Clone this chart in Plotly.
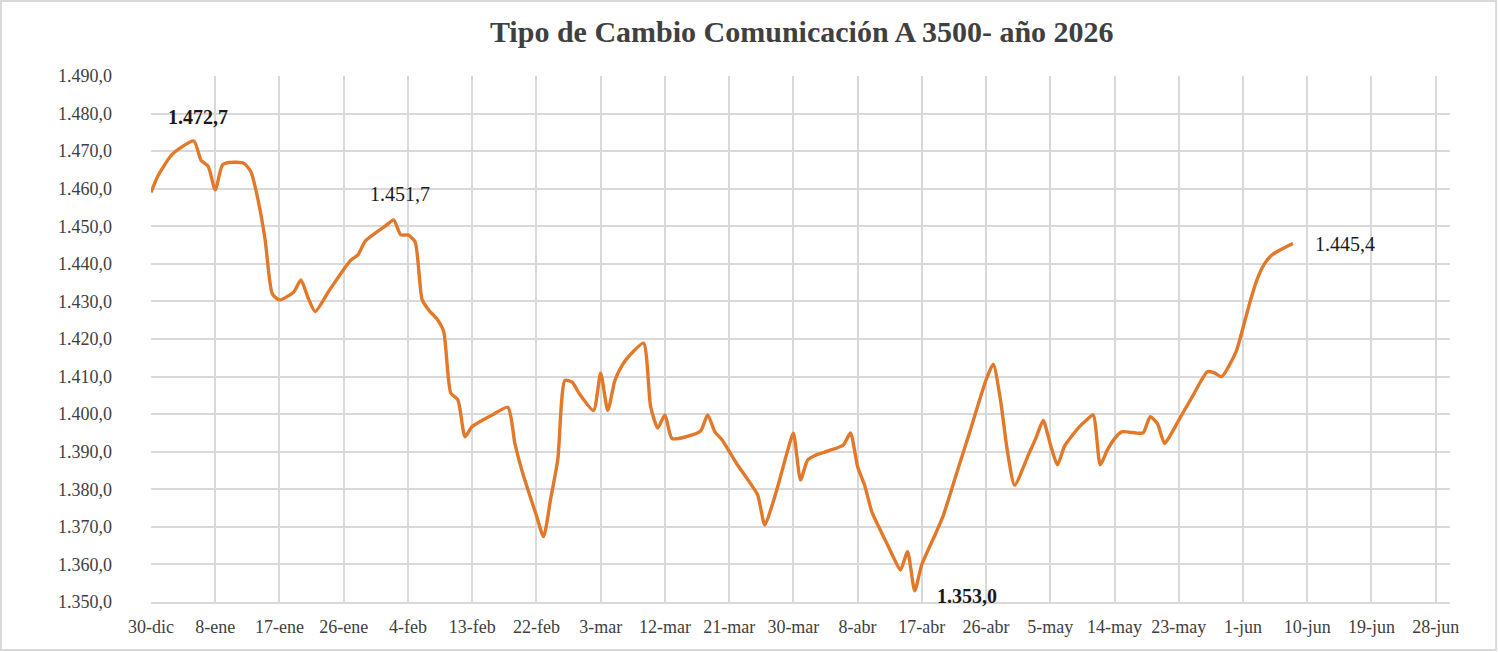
import pandas as pd
import plotly.graph_objects as go

# Tipo de cambio A 3500
fechas = [
    '2025-12-30', '2025-12-31', '2026-01-02', '2026-01-05', '2026-01-06', '2026-01-07',
    '2026-01-08', '2026-01-09', '2026-01-10', '2026-01-12', '2026-01-13', '2026-01-14',
    '2026-01-15', '2026-01-16', '2026-01-17', '2026-01-19', '2026-01-20', '2026-01-21',
    '2026-01-22', '2026-01-24', '2026-01-26', '2026-01-27', '2026-01-28', '2026-01-29',
    '2026-02-01', '2026-02-02', '2026-02-03', '2026-02-04', '2026-02-05', '2026-02-06',
    '2026-02-07', '2026-02-08', '2026-02-09', '2026-02-10', '2026-02-11', '2026-02-12',
    '2026-02-13', '2026-02-16', '2026-02-18', '2026-02-19', '2026-02-20', '2026-02-22',
    '2026-02-23', '2026-02-24', '2026-02-25', '2026-02-26', '2026-02-27', '2026-02-28',
    '2026-03-02', '2026-03-03', '2026-03-04', '2026-03-05', '2026-03-06', '2026-03-07',
    '2026-03-09', '2026-03-10', '2026-03-11', '2026-03-12', '2026-03-13', '2026-03-15',
    '2026-03-17', '2026-03-18', '2026-03-19', '2026-03-20', '2026-03-22', '2026-03-24',
    '2026-03-25', '2026-03-26', '2026-03-27', '2026-03-28', '2026-03-29', '2026-03-30',
    '2026-03-31', '2026-04-01', '2026-04-02', '2026-04-04', '2026-04-06', '2026-04-07',
    '2026-04-08', '2026-04-09', '2026-04-10', '2026-04-12', '2026-04-13', '2026-04-14',
    '2026-04-15', '2026-04-16', '2026-04-17', '2026-04-19', '2026-04-20', '2026-04-22',
    '2026-04-24', '2026-04-26', '2026-04-27', '2026-04-28', '2026-04-29', '2026-04-30',
    '2026-05-02', '2026-05-03', '2026-05-04', '2026-05-05', '2026-05-06', '2026-05-07',
    '2026-05-09', '2026-05-10', '2026-05-11', '2026-05-12', '2026-05-13', '2026-05-14',
    '2026-05-15', '2026-05-17', '2026-05-18', '2026-05-19', '2026-05-20', '2026-05-21',
    '2026-05-22', '2026-05-23', '2026-05-25', '2026-05-27', '2026-05-28', '2026-05-29',
    '2026-05-31', '2026-06-01', '2026-06-02', '2026-06-03', '2026-06-04', '2026-06-05',
    '2026-06-06', '2026-06-07', '2026-06-08',
]
tipo_cambio = [
    1459.0, 1463.5, 1469.2, 1472.7, 1467.6, 1466.0,
    1459.7, 1466.3, 1467.0, 1466.8, 1464.5, 1457.0,
    1446.3, 1432.0, 1430.4, 1432.5, 1435.7, 1431.0,
    1427.3, 1433.0, 1438.5, 1441.0, 1442.4, 1446.0,
    1450.3, 1451.7, 1447.7, 1447.7, 1445.9, 1430.4,
    1427.5, 1425.5, 1422.0, 1405.6, 1403.8, 1394.0,
    1396.7, 1400.0, 1401.8, 1392.0, 1384.8, 1373.0,
    1367.4, 1377.5, 1388.0, 1409.0, 1408.5, 1405.5,
    1401.0, 1410.9, 1401.0, 1409.0, 1413.0, 1415.5,
    1418.9, 1402.0, 1396.3, 1399.8, 1393.5, 1394.0,
    1395.5, 1399.8, 1395.3, 1393.2, 1387.0, 1381.5,
    1378.5, 1370.5, 1375.6, 1382.0, 1389.0, 1394.9,
    1382.5, 1387.8, 1389.0, 1390.3, 1391.8, 1395.0,
    1386.0, 1381.0, 1374.0, 1366.0, 1362.0, 1358.5,
    1363.4, 1353.0, 1360.0, 1368.5, 1373.0, 1385.0,
    1397.0, 1409.1, 1413.3, 1404.0, 1390.0, 1381.1,
    1389.5, 1393.7, 1398.3, 1392.0, 1386.5, 1391.5,
    1396.5, 1398.3, 1399.8, 1386.5, 1390.5, 1393.5,
    1395.3, 1395.0, 1395.0, 1399.3, 1397.5, 1392.2,
    1395.0, 1398.4, 1405.0, 1411.3, 1411.0, 1410.0,
    1416.5, 1423.0, 1430.0, 1436.0, 1440.0, 1442.3,
    1443.5, 1444.5, 1445.4,
]

etiquetas_x = ['30-dic', '8-ene', '17-ene', '26-ene', '4-feb', '13-feb', '22-feb',
               '3-mar', '12-mar', '21-mar', '30-mar', '8-abr', '17-abr', '26-abr',
               '5-may', '14-may', '23-may', '1-jun', '10-jun', '19-jun', '28-jun']

# puntos destacados: fecha, valor, negrita
destacados_fecha = ['2026-01-05', '2026-02-02', '2026-04-16', '2026-06-08']
destacados_valor = [1472.7, 1451.7, 1353.0, 1445.4]
destacados_negrita = [True, False, True, False]

df = pd.DataFrame({'fecha': pd.to_datetime(fechas), 'valor': tipo_cambio})
tick_pos = pd.date_range('2025-12-30', periods=len(etiquetas_x), freq='9D')

fuente = 'Liberation Serif'
naranja = '#E2792A'
gris_grid = '#D9D9D9'
gris_txt = '#404040'

fig = go.Figure()
fig.add_trace(go.Scatter(
    x=df['fecha'], y=df['valor'],
    mode='lines',
    line=dict(color=naranja, width=3.4, shape='spline', smoothing=0.6),
    showlegend=False,
    hoverinfo='skip'
))

# desplazamientos de cada etiqueta respecto del punto (pixeles)
offsets = [(4, -24), (6, -26), (52, 5), (52, 0)]
for f, v, b, (ax, ay) in zip(destacados_fecha, destacados_valor, destacados_negrita, offsets):
    txt = f'{v:,.1f}'.replace(',', 'X').replace('.', ',').replace('X', '.')
    fig.add_annotation(
        x=f, y=v, text=f'<b>{txt}</b>' if b else txt,
        showarrow=True, arrowcolor='rgba(0,0,0,0)', ax=ax, ay=ay,
        font=dict(family=fuente, size=20, color='#1a1a1a')
    )

fig.update_layout(
    width=1500, height=652,
    paper_bgcolor='white', plot_bgcolor='white',
    margin=dict(l=151, r=50, t=76, b=50),
    separators=',.',
    title=dict(text='<b>Tipo de Cambio Comunicación A 3500- año 2026</b>',
               x=0.5345, xanchor='center', y=0.951, yanchor='middle',
               font=dict(family=fuente, size=30, color=gris_txt)),
    font=dict(family=fuente, size=18, color=gris_txt),
)
fig.update_xaxes(
    range=['2025-12-30', '2026-06-30'],
    tickvals=tick_pos, ticktext=etiquetas_x,
    showgrid=True, gridcolor=gris_grid, gridwidth=1.5,
    showline=True, linecolor=gris_grid, linewidth=1.5,
    ticks='', ticklabelstandoff=8,
    tickfont=dict(family=fuente, size=18, color=gris_txt),
    zeroline=False
)
fig.update_yaxes(
    range=[1350, 1490], dtick=10, tickformat=',.1f',
    showgrid=True, gridcolor=gris_grid, gridwidth=1.5,
    showline=False, ticks='', ticklabelstandoff=38,
    tickfont=dict(family=fuente, size=18, color=gris_txt),
    zeroline=False
)

# borde del area del grafico
fig.add_shape(type='rect', xref='paper', yref='paper',
              x0=-0.1155, x1=1.0355, y0=-0.0913, y1=1.1426,
              line=dict(color=gris_grid, width=2), layer='below')

# la pagina trae margen de 8px en el body; se quita para que el grafico quede en 0,0
fig.write_html('out.html', config={'displayModeBar': False},
               post_script="document.body.style.margin='0px';")
